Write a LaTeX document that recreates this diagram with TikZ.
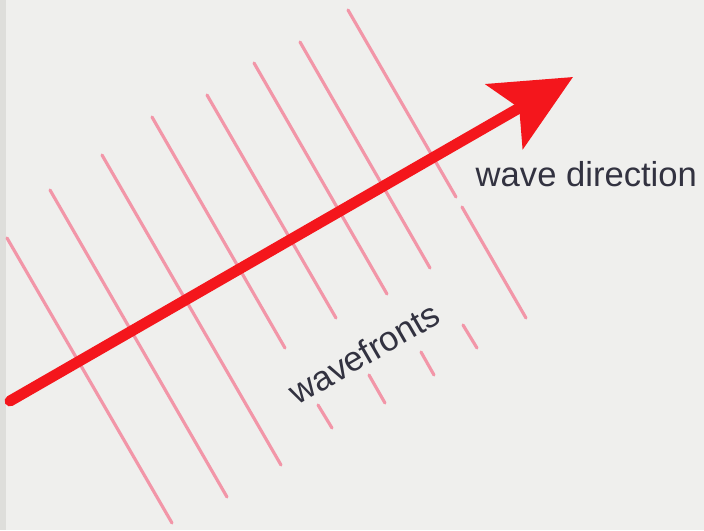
\documentclass[tikz,border=0pt]{standalone}
\usepackage{fontspec}
\setmainfont{Liberation Sans}
\usepackage{tikz}
\usetikzlibrary{
  arrows.meta,
  calc
}
\definecolor{paper}{RGB}{239,239,237}
\definecolor{edge}{RGB}{222,222,219}
\definecolor{frontpink}{RGB}{242,150,168}
\definecolor{arrowred}{RGB}{244,22,28}
\definecolor{ink}{RGB}{50,50,64}

\begin{document}
\begin{tikzpicture}[
    front/.style={frontpink,line width=0.9pt,line cap=round},
    lbl/.style={text=ink,inner sep=0pt,font=\fontsize{9.85}{12}\selectfont}
  ]
  % paper
  \fill[paper] (0,0) rectangle (7.04,5.30);
  \fill[edge] (0,0) rectangle (0.06,5.30);
  \useasboundingbox (0,0) rectangle (7.04,5.30);
  % wavefronts
  \draw[front] (0.07,2.92) -- (1.72,0.07);
  \draw[front] (0.50,3.40) -- (2.27,0.33);
  \draw[front] (1.02,3.75) -- (2.81,0.65);
  \draw[front] (1.52,4.13) -- (2.85,1.82);
  \draw[front] (3.18,1.25) -- (3.32,1.02);
  \draw[front] (2.07,4.35) -- (3.36,2.12);
  \draw[front] (3.69,1.55) -- (3.85,1.27);
  \draw[front] (2.54,4.67) -- (3.87,2.36);
  \draw[front] (4.21,1.78) -- (4.34,1.55);
  \draw[front] (3.00,4.88) -- (4.30,2.62);
  \draw[front] (4.63,2.05) -- (4.77,1.82);
  \draw[front] (3.48,5.20) -- (4.56,3.33);
  \draw[front] (4.62,3.23) -- (5.26,2.12);
  % direction of travel
  \coordinate (src) at (0.10,1.29);
  \coordinate (tip) at (5.73,4.53);
  \draw[arrowred,line width=3.1pt,line cap=round,
        -{Stealth[length=7.9mm,width=7.4mm,inset=1.7mm]}] (src) -- (tip);
  % labels
  \node[lbl,anchor=base west] (dir) at (4.75,3.44) {wave direction};
  \node[lbl,rotate=30] (fronts) at (3.64,1.77) {wavefronts};
\end{tikzpicture}
\end{document}
